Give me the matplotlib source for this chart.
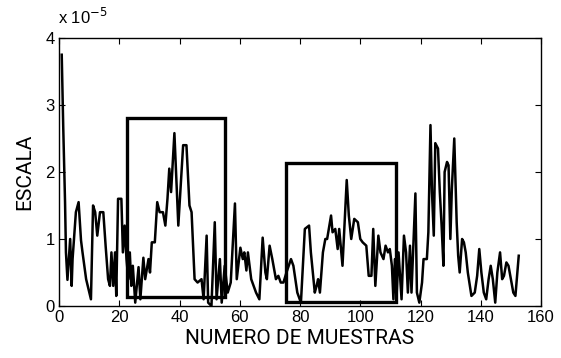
import matplotlib
matplotlib.use("Agg")
import matplotlib.pyplot as plt
from matplotlib.patches import Rectangle

# sample position and scale value (x 1e-5)
muestras = [0.9, 1.4, 2.0, 2.3, 2.8, 3.7, 4.2, 4.5, 5.6, 6.5, 7.3, 7.8, 9.0, 10.6,
            11.3, 12.0, 12.7, 13.6, 14.7, 15.5, 16.3, 16.9, 17.4, 18.0, 18.6, 19.0,
            19.6, 20.7, 21.2, 21.8, 22.4, 23.0, 23.5, 24.0, 24.5, 25.3, 26.4, 27.0,
            28.0, 28.6, 29.7, 30.2, 30.8, 31.8, 32.6, 33.4, 34.5, 35.3, 36.0, 36.6,
            37.2, 38.3, 39.6, 41.2, 42.3, 43.3, 44.0, 45.0, 46.0, 47.3, 48.0, 49.0,
            49.5, 50.6, 51.7, 52.3, 53.4, 54.0, 55.0, 56.0, 57.0, 58.4, 59.0, 60.2,
            61.0, 61.5, 62.2, 62.7, 63.8, 65.4, 66.5, 67.6, 68.5, 69.0, 69.9, 70.8,
            72.0, 72.8, 73.6, 74.5, 75.5, 77.0, 77.8, 79.1, 80.3, 81.6, 83.0, 83.6,
            84.9, 85.5, 86.0, 86.6, 87.6, 88.4, 89.0, 90.3, 90.8, 91.7, 92.5, 93.0,
            94.1, 95.5, 96.2, 97.0, 98.0, 99.2, 100.0, 100.8, 102.0, 102.8, 103.7,
            104.3, 105.0, 106.0, 106.7, 107.7, 108.4, 109.2, 109.8, 110.5, 111.0,
            111.5, 112.0, 112.7, 113.7, 114.5, 115.2, 115.8, 116.5, 117.0, 117.6,
            118.3, 118.8, 119.6, 120.5, 121.0, 122.1, 122.6, 123.3, 123.8, 124.4,
            124.9, 125.8, 126.4, 127.0, 127.6, 128.0, 128.8, 129.3, 129.9, 130.4,
            131.2, 132.0, 132.5, 133.0, 133.8, 134.4, 135.0, 135.7, 136.9, 138.0,
            138.8, 139.5, 140.2, 141.0, 141.8, 142.6, 143.3, 144.0, 144.8, 145.5,
            146.4, 147.1, 147.7, 148.5, 149.2, 150.0, 150.8, 151.5, 152.6]
escala = [3.75, 2.67, 1.55, 0.8, 0.39, 1.0, 0.3, 0.7, 1.4, 1.55, 0.98, 0.8, 0.4, 0.1,
          1.5, 1.4, 1.05, 1.4, 1.4, 0.88, 0.4, 0.3, 0.8, 0.3, 0.8, 0.15,
          1.6, 1.6, 0.8, 1.2, 0.7, 0.4, 0.8, 0.3, 0.6, 0.05, 0.58, 0.1,
          0.72, 0.4, 0.7, 0.5, 0.95, 0.95, 1.55, 1.4, 1.4, 1.2, 1.6, 2.05,
          1.7, 2.58, 1.2, 2.4, 2.4, 1.5, 1.4, 0.4, 0.35, 0.4, 0.1, 1.05,
          0.05, 0.0, 1.25, 0.1, 0.7, 0.05, 0.6, 0.2, 0.35, 1.53, 0.4, 0.87,
          0.7, 0.8, 0.53, 0.8, 0.4, 0.2, 0.1, 1.02, 0.5, 0.4, 0.9, 0.7,
          0.4, 0.45, 0.35, 0.35, 0.5, 0.7, 0.6, 0.2, 0.05, 1.15, 1.2, 0.8,
          0.2, 0.3, 0.4, 0.2, 0.8, 1.0, 1.0, 1.35, 1.1, 1.15, 0.85, 1.15,
          0.6, 1.88, 1.35, 1.0, 1.3, 1.25, 1.0, 0.95, 0.9, 0.45, 0.45,
          1.15, 0.3, 1.05, 0.8, 0.7, 0.9, 0.8, 0.85, 0.6, 0.1,
          0.7, 0.1, 0.8, 0.1, 1.05, 0.8, 0.2, 0.9, 0.2, 0.9,
          1.68, 0.2, 0.05, 0.35, 0.7, 0.7, 1.1, 2.7, 1.7, 1.05,
          2.43, 2.35, 1.7, 1.2, 0.6, 2.0, 2.15, 2.1, 1.0, 1.75,
          2.5, 1.25, 0.75, 0.5, 1.0, 0.95, 0.8, 0.5, 0.15, 0.2,
          0.45, 0.85, 0.5, 0.2, 0.1, 0.4, 0.6, 0.4, 0.05, 0.5,
          0.8, 0.4, 0.45, 0.65, 0.6, 0.4, 0.2, 0.15, 0.75]

# highlighted zones: (x0, x1, y0, y1) in units of 1e-5
zonas = [(22.5, 55.1, 0.13, 2.8), (75.4, 111.8, 0.065, 2.13)]

xticks = [0, 20, 40, 60, 80, 100, 120, 140, 160]
yticks = [0, 1, 2, 3, 4]

plt.rcParams['font.family'] = ['Liberation Sans Narrow', 'Liberation Sans', 'DejaVu Sans']

fig = plt.figure(figsize=(5.61, 3.58), dpi=100)
ax = fig.add_axes([0.1052, 0.1453, 0.8592, 0.7486])

y = [v * 1e-5 for v in escala]
ax.plot(muestras, y, color='black', lw=1.8)

for x0, x1, y0, y1 in zonas:
    ax.add_patch(Rectangle((x0, y0 * 1e-5), x1 - x0, (y1 - y0) * 1e-5,
                           fill=False, ec='black', lw=2.4))

ax.set_xlim(0, 160)
ax.set_ylim(0, 4e-5)
ax.set_xticks(xticks)
ax.set_xticklabels([str(t) for t in xticks])
ax.set_yticks([t * 1e-5 for t in yticks])
ax.set_yticklabels([str(t) for t in yticks])
ax.tick_params(direction='in', top=True, right=True, length=4, width=0.8,
               labelsize=12, pad=3)
for s in ax.spines.values():
    s.set_linewidth(1.0)

ax.set_xlabel('NUMERO DE MUESTRAS', fontsize=15, family='Roboto', labelpad=3)
ax.set_ylabel('ESCALA', fontsize=15, family='Roboto', labelpad=8)
fig.text(0.103, 0.925, r'x 10$^{-5}$', fontsize=12, ha='left', va='bottom')

fig.savefig('out.png', dpi=100)
